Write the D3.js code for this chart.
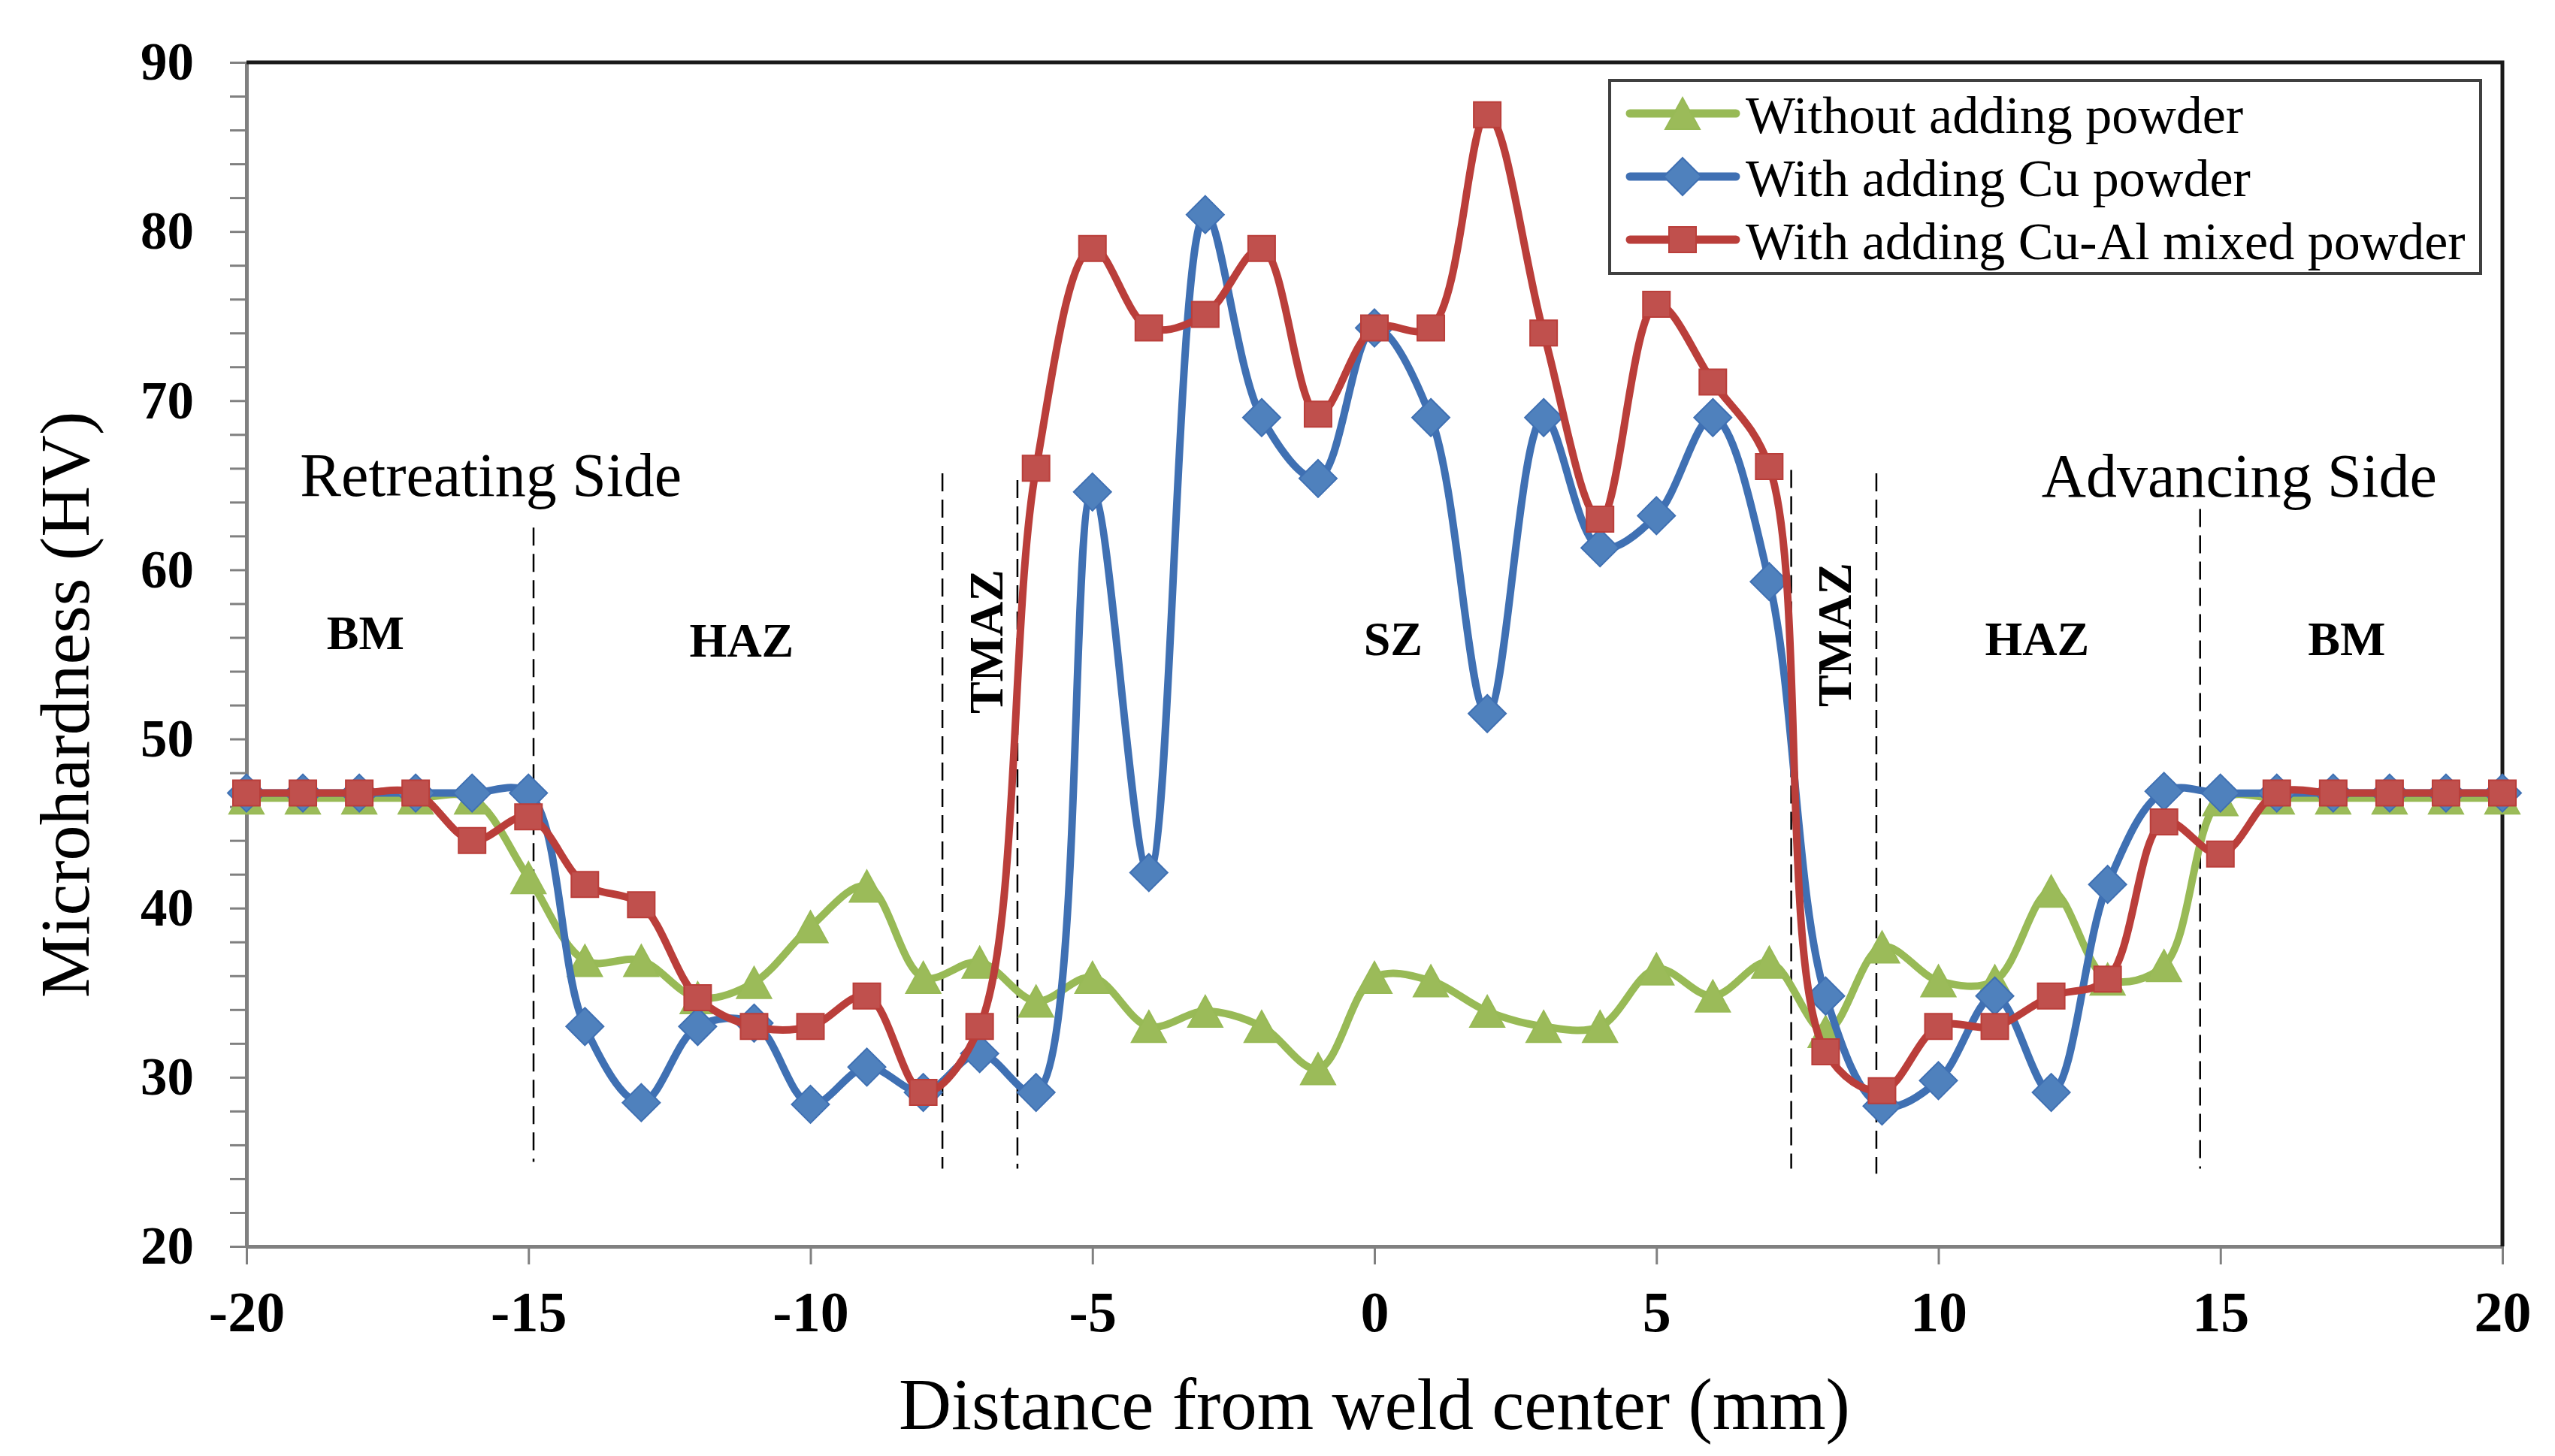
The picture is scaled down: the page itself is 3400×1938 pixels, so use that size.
<!DOCTYPE html>
<html>
<head>
<meta charset="utf-8">
<script src="https://d3js.org/d3.v7.min.js"></script>
<style>
  body { margin: 0; background: #ffffff; }
  svg { display: block; }
</style>
</head>
<body>
<div class="center"></div>
<script>
// Distance from weld center (mm)
const distance = [-20, -19, -18, -17, -16, -15, -14, -13, -12, -11, -10, -9, -8, -7, -6, -5, -4, -3, -2, -1,
                  0, 1, 2, 3, 4, 5, 6, 7, 8, 9, 10, 11, 12, 13, 14, 15, 16, 17, 18, 19, 20];

// Microhardness (HV)
const withoutPowder = [46.5, 46.5, 46.5, 46.5, 46.5, 41.8, 36.9, 36.9, 34.7, 35.6, 38.9, 41.3, 35.9, 36.8, 34.5, 35.9, 33.0, 33.9, 33.0, 30.5,
                       35.9, 35.7, 33.9, 33.0, 33.0, 36.4, 34.8, 36.8, 32.7, 37.7, 35.7, 35.7, 41.0, 35.8, 36.6, 46.4, 46.5, 46.5, 46.5, 46.5, 46.5];
const withCu = [46.8, 46.8, 46.8, 46.8, 46.8, 46.8, 33.0, 28.5, 33.0, 33.2, 28.4, 30.6, 29.1, 31.4, 29.1, 64.6, 42.1, 81.0, 69.0, 65.4,
                74.3, 69.0, 51.5, 69.0, 61.3, 63.2, 69.0, 59.3, 34.8, 28.3, 29.8, 34.8, 29.1, 41.4, 46.9, 46.8, 46.8, 46.8, 46.8, 46.8, 46.8];
const withCuAl = [46.8, 46.8, 46.8, 46.8, 44.0, 45.4, 41.4, 40.2, 34.7, 33.0, 33.0, 34.8, 29.1, 33.0, 66.0, 79.0, 74.3, 75.1, 79.0, 69.2,
                  74.3, 74.3, 86.9, 74.0, 63.0, 75.7, 71.1, 66.1, 31.5, 29.2, 33.0, 33.0, 34.8, 35.8, 45.1, 43.2, 46.8, 46.8, 46.8, 46.8, 46.8];

const seriesNames = ["Without adding powder", "With adding Cu powder", "With adding Cu-Al mixed powder"];

// tick labels
const xTicks = [-20, -15, -10, -5, 0, 5, 10, 15, 20];
const yTicks = [20, 30, 40, 50, 60, 70, 80, 90];

// zone boundaries (dashed lines) in data units
const zoneBounds  = [-14.91, -7.66, -6.33, 7.39, 8.90, 14.64];
const zoneTops    = [62.5, 65.7, 65.3, 65.9, 65.7, 63.6];
const zoneBottoms = [25.0, 24.6, 24.6, 24.6, 24.3, 24.6];

// zone names and where they sit (data units)
const zoneNames = ["BM", "HAZ", "TMAZ", "SZ", "TMAZ", "HAZ", "BM"];
const zoneX     = [-17.89, -11.22, -6.60, 0.33, 8.45, 11.75, 17.24];
const zoneY     = [55.3, 54.86, 55.75, 54.95, 56.15, 54.95, 54.95];

const sideNames = ["Retreating Side", "Advancing Side"];
const sideX     = [-19.05, 11.83];
const sideY     = [64.37, 64.32];


const margin = {top: 83, right: 70, bottom: 279, left: 328};
const width = 3400 - margin.left - margin.right;
const height = 1938 - margin.top - margin.bottom;

const serif = "'Liberation Serif', 'Times New Roman', serif";

const xScale = d3.scaleLinear().domain([-20, 20]).range([0, width]);
const yScale = d3.scaleLinear().domain([20, 90]).range([height, 0]);

const svg = d3.select(".center").append("svg")
              .attr("width", width + margin.left + margin.right)
              .attr("height", height + margin.top + margin.bottom)
              .append("g")
              .attr("transform", `translate(${margin.left},${margin.top})`);

// series styles: green triangles, blue diamonds, red squares
const lineColors   = ["#98BA56", "#3F70B3", "#BA3E3A"];
const markerColors = ["#9BBB59", "#4F81BD", "#C0504D"];
const markerPaths  = [
    "M0,-21L23,21L-23,21Z",
    "M0,-25L25,0L0,25L-25,0Z",
    "M-18,-17L18,-17L18,17L-18,17Z"
];

const allSeries = [withoutPowder, withCu, withCuAl].map((vals, i) => ({
    name: seriesNames[i],
    idx: i,
    values: distance.map((d, j) => ({x: d, y: vals[j]}))
}));

// Axes (plain hyphen for negatives, like the original)
const yAxis = d3.axisLeft(yScale)
                .tickValues(d3.range(20, 91, 2))
                .tickSize(22)
                .tickSizeOuter(0)
                .tickPadding(48)
                .tickFormat(d => yTicks.includes(d) ? String(d) : "");

const gy = svg.append("g").call(yAxis);
gy.select(".domain").attr("stroke", "#808080").attr("stroke-width", 5);
gy.selectAll(".tick line").attr("stroke", "#808080").attr("stroke-width", 3);
gy.selectAll(".tick text")
  .attr("fill", "#000")
  .style("font-family", serif)
  .style("font-size", "71px")
  .style("font-weight", "700");

const xAxis = d3.axisBottom(xScale)
                .tickValues(xTicks)
                .tickSize(24)
                .tickSizeOuter(0)
                .tickFormat(d => String(d));

const gx = svg.append("g").attr("transform", `translate(0, ${height})`).call(xAxis);
gx.select(".domain").attr("stroke", "#808080").attr("stroke-width", 5);
gx.selectAll(".tick line").attr("stroke", "#808080").attr("stroke-width", 3);
gx.selectAll(".tick text")
  .attr("y", 113)
  .attr("dy", 0)
  .attr("fill", "#000")
  .style("font-family", serif)
  .style("font-size", "76px")
  .style("font-weight", "700");

// top and right frame
svg.append("path")
   .attr("d", `M0,0H${width}V${height}`)
   .attr("fill", "none")
   .attr("stroke", "#1a1a1a")
   .attr("stroke-width", 5);

// zone boundaries
svg.selectAll(".zone-line")
   .data(zoneBounds)
   .enter().append("line")
   .attr("class", "zone-line")
   .attr("x1", d => xScale(d))
   .attr("x2", d => xScale(d))
   .attr("y1", (d, i) => yScale(zoneTops[i]))
   .attr("y2", (d, i) => yScale(zoneBottoms[i]))
   .attr("stroke", "#000")
   .attr("stroke-width", 2.5)
   .attr("stroke-dasharray", "24,11");

// zone names
svg.selectAll(".zone-label")
   .data(zoneNames)
   .enter().append("text")
   .attr("class", "zone-label")
   .attr("transform", (d, i) => d === "TMAZ"
        ? `translate(${xScale(zoneX[i])},${yScale(zoneY[i])}) rotate(-90)`
        : `translate(${xScale(zoneX[i])},${yScale(zoneY[i])})`)
   .attr("text-anchor", "middle")
   .text(d => d)
   .style("font-family", serif)
   .style("font-size", "64px")
   .style("font-weight", "700");

// side names
svg.selectAll(".side-label")
   .data(sideNames)
   .enter().append("text")
   .attr("class", "side-label")
   .attr("x", (d, i) => xScale(sideX[i]))
   .attr("y", (d, i) => yScale(sideY[i]))
   .text(d => d)
   .style("font-family", serif)
   .style("font-size", "82px");

// smoothed lines
const line = d3.line()
               .x(d => xScale(d.x))
               .y(d => yScale(d.y))
               .curve(d3.curveCatmullRom.alpha(0.5));

allSeries.forEach(s => {
    svg.append("path")
       .datum(s.values)
       .attr("fill", "none")
       .attr("stroke", lineColors[s.idx])
       .attr("stroke-width", 10)
       .attr("stroke-linejoin", "round")
       .attr("d", line);

    svg.selectAll(".marker-" + s.idx)
       .data(s.values)
       .enter().append("path")
       .attr("class", "marker-" + s.idx)
       .attr("d", markerPaths[s.idx])
       .attr("transform", d => `translate(${xScale(d.x)},${yScale(d.y)})`)
       .attr("fill", markerColors[s.idx])
       .attr("stroke", lineColors[s.idx])
       .attr("stroke-width", 2);
});

// X-axis label
svg.append("text")
   .text("Distance from weld center (mm)")
   .attr("x", width / 2)
   .attr("y", 1902 - margin.top)
   .attr("text-anchor", "middle")
   .style("font-family", serif)
   .style("font-size", "97px");

// Y-axis label
svg.append("text")
   .text("Microhardness (HV)")
   .attr("transform", `translate(${118 - margin.left},${938 - margin.top}) rotate(-90)`)
   .attr("text-anchor", "middle")
   .style("font-family", serif)
   .style("font-size", "94px");

// Legend
const legend = svg.append("g").attr("transform", `translate(${width - 1188},24)`);

legend.append("rect")
      .attr("x", 0)
      .attr("y", 0)
      .attr("width", 1159)
      .attr("height", 257)
      .attr("fill", "#fff")
      .attr("stroke", "#404040")
      .attr("stroke-width", 4);

const legendItems = legend.selectAll(".legend-item")
                          .data(allSeries)
                          .enter()
                          .append("g")
                          .attr("class", "legend-item")
                          .attr("transform", (d, i) => `translate(0, ${44 + i * 84})`);

legendItems.append("line")
    .attr("x1", 27)
    .attr("x2", 168)
    .attr("y1", 0)
    .attr("y2", 0)
    .attr("stroke", d => lineColors[d.idx])
    .attr("stroke-width", 11)
    .attr("stroke-linecap", "round");

legendItems.append("path")
    .attr("d", d => markerPaths[d.idx])
    .attr("transform", "translate(97,0)")
    .attr("fill", d => markerColors[d.idx])
    .attr("stroke", d => lineColors[d.idx])
    .attr("stroke-width", 2);

legendItems.append("text")
    .attr("x", 181)
    .attr("y", 26)
    .text(d => d.name)
    .style("font-family", serif)
    .style("font-size", "70px");
</script>
</body>
</html>
